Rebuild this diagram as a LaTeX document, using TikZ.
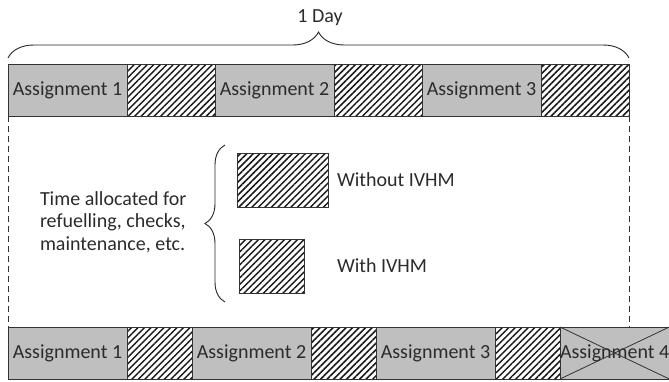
\documentclass[tikz,border=0pt]{standalone}
\usepackage{fontspec}
\setmainfont{Carlito}
\usetikzlibrary{positioning, patterns.meta, decorations.pathreplacing}
\definecolor{slotgray}{HTML}{BFBFBF}
\definecolor{inkgray}{HTML}{2B2B2B}
\tikzstyle{every node}=[inner sep=0pt, outer sep=0pt, text=inkgray, font=\fontsize{20}{22.5}\selectfont]
\tikzstyle{task}=[draw=black!80, line width=0.8pt, fill=slotgray, minimum width=119, minimum height=52]
\tikzstyle{hatch}=[draw=black!80, line width=0.8pt, minimum height=52,
  pattern={Lines[angle=45, distance=4.6pt, line width=1.5pt]}, pattern color=black!90]
\tikzstyle{dashline}=[draw=black!80, line width=0.9pt, dash pattern=on 6pt off 4pt]
\tikzstyle{bracket}=[draw=black!85, line width=0.9pt, decorate]

\begin{document}
\begin{tikzpicture}[x=1pt, y=-1pt]
\useasboundingbox (0,0) rectangle (669,381);
% One day of flying
    \node[task, anchor=north west] (t1) at (8,64) {Assignment 1};
    \node[hatch, minimum width=88, right=0pt of t1] (th1) {};
    \node[task, right=0pt of th1] (t2) {Assignment 2};
    \node[hatch, minimum width=88, right=0pt of t2] (th2) {};
    \node[task, right=0pt of th2] (t3) {Assignment 3};
    \node[hatch, minimum width=88, right=0pt of t3] (th3) {};
    \draw[bracket, decoration={brace, amplitude=26pt}] (t1.north west) ++(0,-6) coordinate (dayl)
        (th3.north east) ++(0,-6) coordinate (dayr)
        (dayl) -- (dayr);
    \node (day) at (320,18) {1 Day};
% Same day with IVHM
    \node[task, anchor=north west] (b1) at (8,327) {Assignment 1};
    \node[hatch, minimum width=65, right=0pt of b1] (bh1) {};
    \node[task, right=0pt of bh1] (b2) {Assignment 2};
    \node[hatch, minimum width=65, right=0pt of b2] (bh2) {};
    \node[task, right=0pt of bh2] (b3) {Assignment 3};
    \node[hatch, minimum width=65, right=0pt of b3] (bh3) {};
    \node[task, minimum width=106, right=0pt of bh3] (b4) {Assignment 4};
    \draw[black!80, line width=0.8pt] (b4.north west) -- (b4.south east);
    \draw[black!80, line width=0.8pt] (b4.south west) -- (b4.north east);
% Dashed frame
    \draw[dashline] (t1.south west) -- (b1.north west);
    \draw[dashline] (th3.south east) -- (th3.south east |- b1.north);
% Legend
    \node[align=left, anchor=west] (why) at (40,222)
        {Time allocated for\\refuelling, checks,\\maintenance, etc.};
    \node[hatch, minimum width=91, minimum height=54, anchor=north west] (hwo) at (237,153) {};
    \node[hatch, minimum width=65, minimum height=54, anchor=north west] (hw) at (239,239) {};
    \node[anchor=west, right=9pt of hwo] (lwo) {Without IVHM};
    \node[anchor=west] (lw) at (lwo.west |- hw) {With IVHM};
    \draw[bracket, decoration={brace, amplitude=20pt}] (225,302) -- (225,145);
\end{tikzpicture}
\end{document}
